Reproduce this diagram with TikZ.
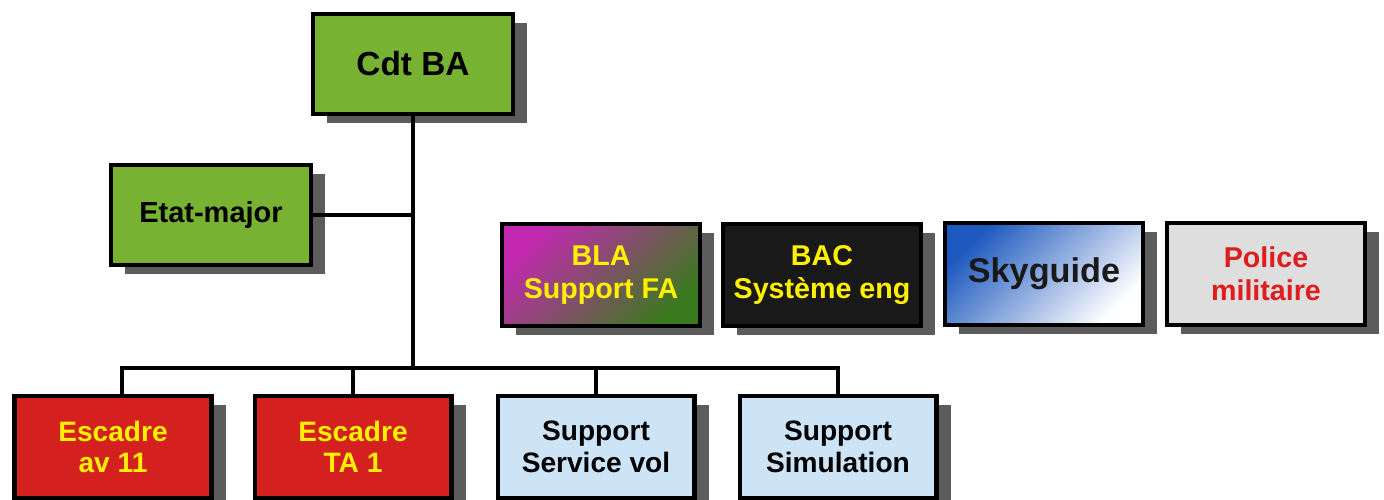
\documentclass[tikz,border=0pt]{standalone}
\usepackage{fontspec}
\setmainfont{Liberation Sans}
\usetikzlibrary{shadows}

\definecolor{orggreen}{RGB}{120,178,50}
\definecolor{orgred}{RGB}{212,32,30}
\definecolor{orgblue}{RGB}{205,228,246}
\definecolor{orgyellow}{RGB}{255,240,0}
\definecolor{orgmagenta}{RGB}{196,40,176}
\definecolor{orgdkgreen}{RGB}{58,122,30}
\definecolor{orgsky}{RGB}{28,88,190}
\definecolor{orggray}{RGB}{222,222,222}
\definecolor{orgpolice}{RGB}{222,30,30}

\tikzset{
  box/.style={draw=black, line width=2.3pt, align=center, font=\bfseries,
    inner sep=0pt,
    drop shadow={shadow xshift=8pt, shadow yshift=-5pt, fill=black!75, opacity=0.85}},
  bigbox/.style={box, minimum width=4cm, minimum height=2cm,
    font=\fontsize{19}{21}\selectfont\bfseries},
  sidebox/.style={box, minimum width=3.95cm, minimum height=2.05cm,
    font=\fontsize{16.3}{19}\selectfont\bfseries},
  unitbox/.style={box, minimum width=3.94cm, minimum height=2.04cm,
    font=\fontsize{16}{18}\selectfont\bfseries},
  link/.style={draw=black, line width=2.2pt}
}

\begin{document}
\begin{tikzpicture}[x=0.02cm, y=-0.02cm]
  %%%%% START %%%%%
  \useasboundingbox (0,0) rectangle (1384,500);

  \node[bigbox, fill=orggreen] (cdt) at (413,64) {Cdt BA};
  \node[bigbox, fill=orggreen, font=\fontsize{16.5}{19}\selectfont\bfseries]
    (etat) at (211,215) {Etat-major};

  \node[sidebox, top color=orgmagenta, bottom color=orgdkgreen, shading angle=45,
    text=orgyellow] (bla) at (601,275) {BLA\\Support FA};
  \node[sidebox, fill=black!90, text=orgyellow] (bac) at (822,275) {BAC\\Système eng};
  \node[sidebox, top color=orgsky, bottom color=white, shading angle=45,
    text=black!90, font=\fontsize{19.5}{21}\selectfont\bfseries]
    (sky) at (1044,274) {Skyguide};
  \node[sidebox, fill=orggray, text=orgpolice] (police) at (1266,274) {Police\\militaire};

  \node[unitbox, fill=orgred, text=orgyellow] (esc11) at (113,447) {Escadre\\av 11};
  \node[unitbox, fill=orgred, text=orgyellow] (escta) at (353,447) {Escadre\\TA 1};
  \node[unitbox, fill=orgblue] (ssv) at (596,447) {Support\\Service vol};
  \node[unitbox, fill=orgblue] (ssim) at (838,447) {Support\\Simulation};

  \coordinate (bus) at (413,368);

  \draw[link] (cdt.south) -- (bus);
  \draw[link] (etat.east) -- (etat.east -| cdt.south);
  \draw[link] ([xshift=5pt]esc11.north) |- (bus);
  \draw[link] (escta.north) |- (bus);
  \draw[link] (ssv.north) |- (bus);
  \draw[link] (ssim.north) |- (bus);
  %%%%% END %%%%%
\end{tikzpicture}
\end{document}
